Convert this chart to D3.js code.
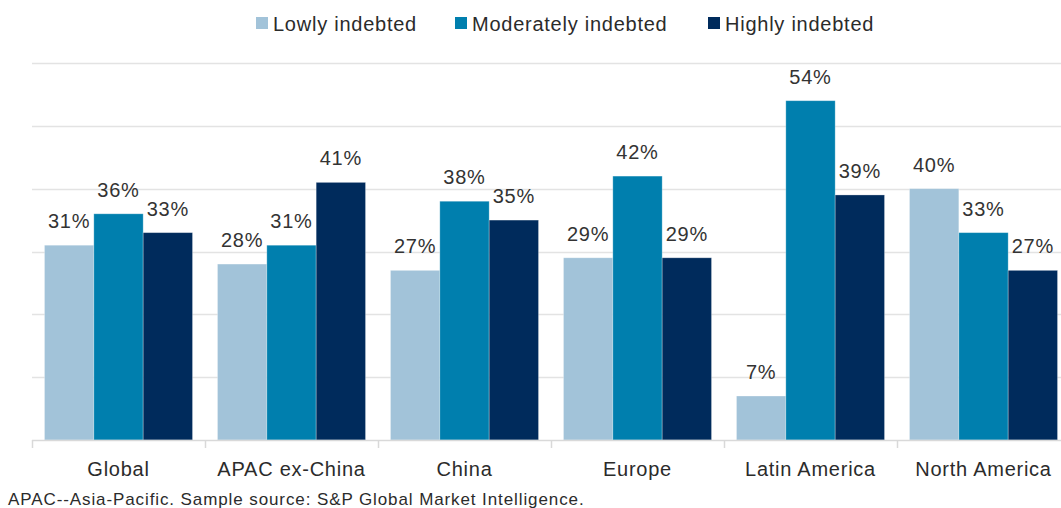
<!DOCTYPE html>
<html>
<head>
<meta charset="utf-8">
<script src="https://cdn.jsdelivr.net/npm/d3@7"></script>
<style>
  html, body { margin: 0; padding: 0; background: #fff; }
  svg { display: block; font-family: "Liberation Sans", Arial, sans-serif; }
  svg text { letter-spacing: 0.75px; }
</style>
</head>
<body>
<svg id="chart" width="1061" height="508"></svg>
<script>
// Share of companies by debt level, per region (%)
const regions = ["Global", "APAC ex-China", "China", "Europe", "Latin America", "North America"];
const seriesNames = ["Lowly indebted", "Moderately indebted", "Highly indebted"];
const lowly = [31, 28, 27, 29, 7, 40];
const moderately = [36, 31, 38, 42, 54, 33];
const highly = [33, 41, 35, 29, 39, 27];
const yTicks = [0, 10, 20, 30, 40, 50, 60];
const colors = ["#a2c3d9", "#007fae", "#002b5c"];
const footnote = "APAC--Asia-Pacific. Sample source: S&P Global Market Intelligence.";

const seriesValues = [lowly, moderately, highly];
const rows = regions.map((r, i) => ({
  region: r,
  values: seriesNames.map((s, k) => ({ key: s, value: seriesValues[k][i] }))
}));

const svg = d3.select("#chart");
const plot = { left: 32, right: 1070, top: 63, bottom: 440 };

const x = d3.scaleBand().domain(regions).range([plot.left, plot.right]).paddingInner(0).paddingOuter(0);
const x1 = d3.scaleBand().domain(seriesNames).range([0, x.bandwidth()]).paddingInner(0).paddingOuter(0.253);
const y = d3.scaleLinear().domain([0, 60]).range([plot.bottom, plot.top]);
const color = d3.scaleOrdinal().domain(seriesNames).range(colors);

// Horizontal gridlines
svg.append("g")
  .selectAll("line")
  .data(yTicks.filter(t => t > 0))
  .join("line")
  .attr("x1", plot.left).attr("x2", 1061)
  .attr("y1", d => Math.round(y(d)) + 0.5).attr("y2", d => Math.round(y(d)) + 0.5)
  .attr("stroke", "#e3e3e3").attr("stroke-width", 1.6);

// Bars
const groups = svg.append("g")
  .selectAll("g")
  .data(rows)
  .join("g")
  .attr("transform", d => `translate(${x(d.region)},0)`);

groups.selectAll("rect")
  .data(d => d.values)
  .join("rect")
  .attr("x", d => x1(d.key))
  .attr("width", x1.bandwidth())
  .attr("y", d => y(d.value))
  .attr("height", d => y(0) - y(d.value))
  .attr("fill", d => color(d.key))
  .attr("stroke", "#ffffff")
  .attr("stroke-opacity", 0.35)
  .attr("stroke-width", 0.8);

// Value labels
groups.selectAll("text")
  .data(d => d.values)
  .join("text")
  .attr("x", d => x1(d.key) + x1.bandwidth() / 2)
  .attr("y", d => y(d.value) - 17)
  .attr("text-anchor", "middle")
  .attr("font-size", 20)
  .attr("fill", "#333")
  .text(d => d.value + "%");

// Baseline and category separators
svg.append("line")
  .attr("x1", plot.left).attr("x2", 1061)
  .attr("y1", plot.bottom + 0.5).attr("y2", plot.bottom + 0.5)
  .attr("stroke", "#d9d9d9").attr("stroke-width", 1.5);

svg.append("g")
  .selectAll("line")
  .data(regions)
  .join("line")
  .attr("x1", d => x(d) + 0.5).attr("x2", d => x(d) + 0.5)
  .attr("y1", plot.bottom).attr("y2", plot.bottom + 8)
  .attr("stroke", "#d9d9d9").attr("stroke-width", 1.5);

// Category labels
const xAxis = svg.append("g")
  .attr("transform", `translate(0,${plot.bottom})`)
  .call(d3.axisBottom(x).tickSize(0).tickPadding(0));
xAxis.select(".domain").remove();
xAxis.selectAll("text")
  .attr("dy", null)
  .attr("y", 36)
  .attr("font-size", 20)
  .attr("font-family", "Liberation Sans, Arial, sans-serif")
  .attr("fill", "#2b2b2b");

// Legend
const legendPos = [256, 455, 708];
const legend = svg.append("g")
  .selectAll("g")
  .data(seriesNames)
  .join("g")
  .attr("transform", (d, i) => `translate(${legendPos[i]},0)`);
legend.append("rect")
  .attr("x", 0).attr("y", 17)
  .attr("width", 12).attr("height", 12)
  .attr("fill", d => color(d));
legend.append("text")
  .attr("x", 17).attr("y", 31)
  .attr("font-size", 20)
  .attr("fill", "#2b2b2b")
  .text(d => d);

// Footnote
svg.append("text")
  .attr("x", 8).attr("y", 505)
  .attr("font-size", 17)
  .style("letter-spacing", "0.9px")
  .attr("fill", "#2b2b2b")
  .text(footnote);
</script>
</body>
</html>
